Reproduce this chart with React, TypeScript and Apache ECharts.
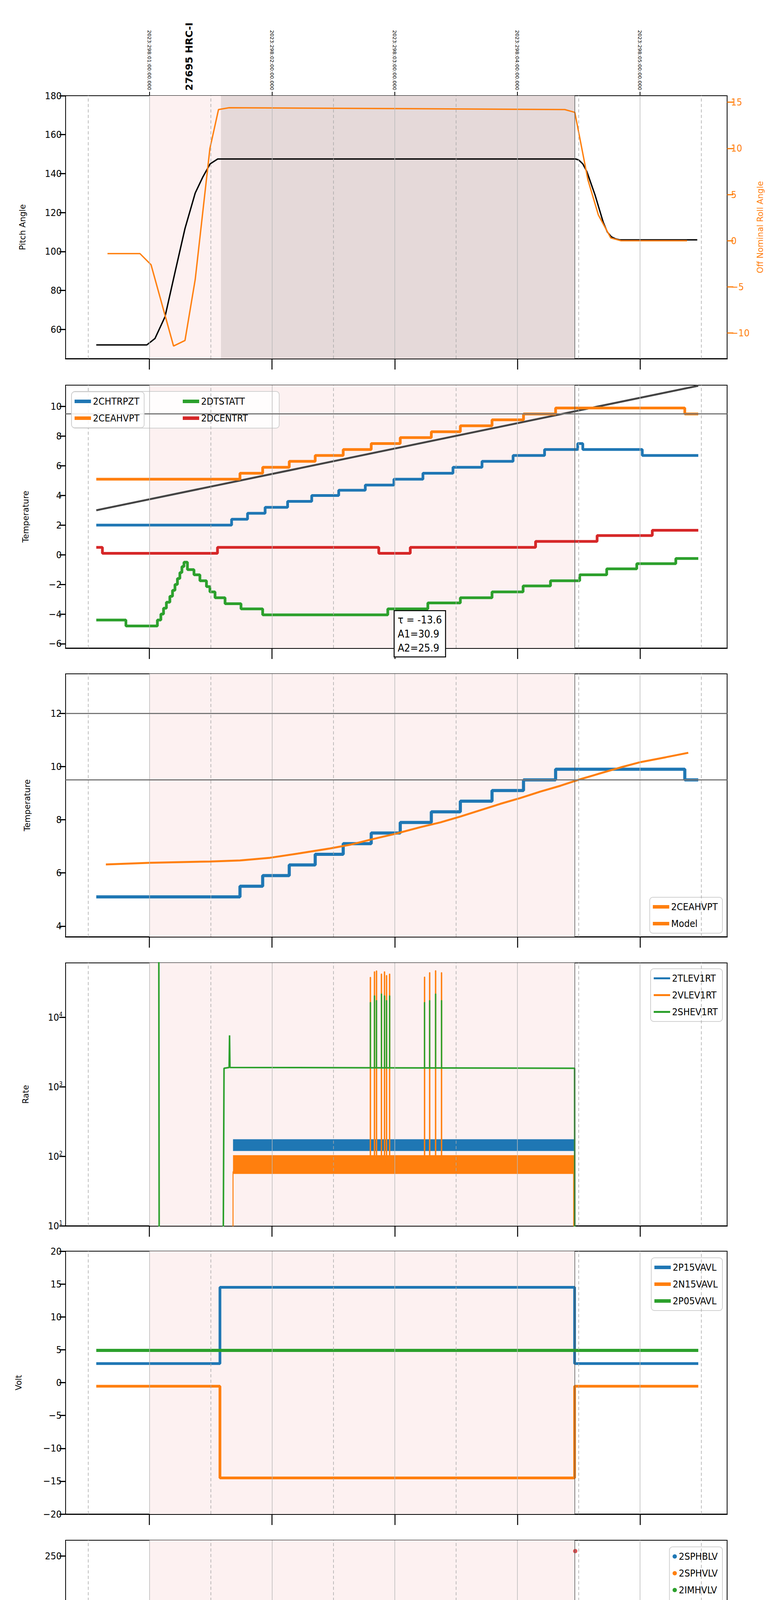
import { useRef, useEffect } from 'react'
import * as echarts from 'echarts'

// x values are minutes after 20:00 on 2023-10-25 (doy 298)
const pitch = [[34, 52], [58.7, 52], [62.7, 55.3], [67.6, 66.4], [72.6, 89.7], [77.4, 111.8], [82.4, 130], [86, 138], [89.7, 145], [93.4, 147.5], [268.5, 147.5], [270, 147], [272, 145], [274, 141], [276, 135], [278, 129], [280, 122], [282, 115], [284, 110], [286, 107.5], [288, 106.5], [290, 106], [328, 106]]
const roll = [[39.5, -1.4], [55.4, -1.4], [60.8, -2.6], [71.8, -11.4], [77.4, -10.8], [82.4, -4.2], [89.6, 10], [93.8, 14.2], [99, 14.4], [263.2, 14.2], [268.1, 13.9], [274.5, 6.6], [279.6, 2.8], [285.7, 0.3], [290.7, 0], [323, 0]]

const chtrpzt = [[34, 2.0], [100.2, 2.4], [108, 2.8], [116.6, 3.2], [127.6, 3.6], [139.4, 4.0], [152.6, 4.35], [165.6, 4.7], [179.6, 5.1], [193.8, 5.5], [208.5, 5.9], [222.7, 6.3], [237.9, 6.7], [253.3, 7.1], [269.5, 7.5], [272, 7.1], [301.1, 6.7], [328.5, 6.7]]
const ceahvpt = [[34, 5.1], [104.3, 5.5], [115.4, 5.9], [128.4, 6.3], [141.1, 6.7], [154.8, 7.1], [168.5, 7.5], [182.7, 7.9], [197.9, 8.3], [212.1, 8.7], [227.6, 9.1], [243, 9.5], [258.7, 9.9], [321.9, 9.5], [328.5, 9.5]]
const dtstatt = [[34, -4.4], [48.5, -4.8], [63.9, -4.4], [65.6, -4.0], [66.9, -3.6], [68.3, -3.2], [70, -2.8], [71.3, -2.4], [72.5, -2.0], [73.7, -1.6], [74.9, -1.2], [75.9, -0.8], [76.9, -0.5], [78.6, -1.0], [81.8, -1.35], [84.7, -1.75], [87.9, -2.15], [89.6, -2.5], [92.1, -2.9], [97, -3.3], [104.8, -3.65], [115.4, -4.05], [176.6, -3.65], [196.2, -3.25], [212.1, -2.9], [227.6, -2.5], [242.8, -2.1], [256.2, -1.75], [270.5, -1.35], [283.7, -0.95], [298.4, -0.6], [317.5, -0.25], [328.5, -0.25]]
const dcentrt = [[34, 0.5], [37, 0.1], [93.3, 0.5], [172.2, 0.1], [187.6, 0.5], [248.9, 0.9], [279, 1.3], [306, 1.65], [328.5, 1.65]]
const trendLine = [[34, 3.0], [328.5, 11.4]]

const model = [[38.7, 6.32], [60.2, 6.38], [89.6, 6.43], [104.3, 6.47], [119, 6.57], [133.7, 6.74], [148.4, 6.92], [158.2, 7.06], [168, 7.25], [180.3, 7.47], [192.5, 7.72], [202.3, 7.9], [212.1, 8.12], [221.9, 8.36], [231.7, 8.6], [241.5, 8.82], [251.3, 9.06], [261.1, 9.28], [269.7, 9.5], [280.7, 9.75], [290.5, 9.97], [300.3, 10.17], [312.5, 10.35], [323.6, 10.52]]

// rate levels (bands) and spikes [x, peak]
const tlevBand = [[100.9, 145], [268, 145]]
const vlevBand = [[100.9, 76], [268, 76]]
const shevBase = [[64.6, 100000], [64.8, 1], [96, 1], [96.5, 1850], [99, 1900], [99.2, 5500], [99.4, 1900], [268, 1850], [268.1, 1]]
const vlevSpikes = [[168, 37600], [170, 45300], [171, 46700], [173.4, 42000], [174.9, 45300], [175.9, 40000], [177.4, 42000], [194.5, 38000], [197, 44000], [199.9, 47000], [202.8, 44000]]
const shevSpikes = [[168, 16400], [170, 20400], [171, 17500], [173.4, 21700], [174.9, 20400], [175.9, 17500], [177.4, 20400], [194.5, 16400], [197, 17500], [199.9, 21700], [202.8, 17500]]

const p15 = [[34, 2.9], [94.5, 14.5], [268, 2.9], [328.5, 2.9]]
const n15 = [[34, -0.55], [94.5, -14.5], [268, -0.55], [328.5, -0.55]]
const p05 = [[34, 4.9], [328.5, 4.9]]

const imhvlv = [[97.1, 100], [97.4, 95], [97.8, 90], [98.3, 86], [98.8, 82], [99.3, 79], [268.5, 79]]
const imhblv = [[97.1, 127], [97.2, 124], [97.3, 119], [97.5, 106], [97.7, 104], [98, 100], [98.3, 97], [98.6, 93], [98.9, 89], [99.3, 86], [268.3, 86]]
const imhvlvOut = [[168, 127], [171, 127], [173, 127], [200, 127]]
const imhblvOut = [[168, 79], [171, 79], [173, 79], [200, 79], [268.3, 255]]

const spinatm = [[94.8, 4.6], [100, 4.15], [109.2, 3.7], [127.6, 3.25], [174.2, 3.7], [219.5, 4.15], [256.2, 4.6], [268, 4.6]]
const sphvatm = [[94.8, 14.7], [95.3, 14.4], [119, 14.65], [141.8, 15.0], [157.5, 15.25], [171.7, 15.55], [185.7, 15.8], [199.9, 16.1], [212.1, 16.35], [226.4, 16.65], [239.1, 16.95], [252.6, 17.25], [265.6, 17.55], [267.8, 17.55]]
const iminatm = [[95, 1.05], [154.1, 1.5], [220.7, 1.95], [267.5, 2.4], [268, 2.4]]
const imhvatm = [[94.5, -1], [94.5, 13.9], [105.3, 14.2], [111.7, 14.5], [117.8, 14.75], [124.4, 15.0], [131.3, 15.3], [138.6, 15.55], [146.5, 15.85], [154.8, 16.1], [163.6, 16.4], [175.3, 16.65], [183.9, 16.95], [194, 17.25], [205.3, 17.55], [217.5, 17.85], [229.3, 18.15], [242, 18.4], [254.3, 18.65], [268.3, 20], [268.5, -1], [268.6, -1]]
// dips [x, from, to]
const sphvDips = [[168, 15.25, 10.8], [169.5, 15.25, 10.8], [171, 15.25, 10.8], [172.5, 15.55, 10.8], [174, 15.55, 10.8], [175.5, 15.55, 10.8], [177, 15.55, 10.8], [194, 15.8, 11.4], [197, 15.8, 11.4], [200, 16.1, 11.4]]
const spinDips = [[168, 3.25, -1], [169.5, 3.25, -1], [171, 3.25, -1], [172.5, 3.25, -1], [174, 3.25, -1], [175.5, 3.7, -1], [177, 3.7, -1], [194, 3.7, -1], [197, 3.7, -1], [200, 3.7, -1]]
const iminSpikes = [[168, 1.5, 3.3], [169.5, 1.5, 3.3], [171, 1.5, 3.3], [172.5, 1.5, 3.3], [174, 1.5, 3.7], [175.5, 1.5, 3.7], [177, 1.5, 3.7], [194, 1.5, 3.7], [197, 1.5, 3.7], [200, 1.5, 3.7]]
const imhvDips = [[168, 16.4, 15.3], [169.5, 16.4, 15.3], [172.5, 16.4, 15.5], [174, 16.65, 15.5], [175.5, 16.65, 15.5], [177, 16.65, 15.5], [194, 17.25, 15.8], [197, 17.25, 16.0]]

const fhtrmzt = [[34, -8.8], [93.6, -8.4], [107.5, -7.95], [115.6, -7.6], [122.2, -7.15], [129.1, -6.75], [136.4, -6.35], [143.3, -5.95], [149.9, -5.6], [157.2, -5.2], [165.1, -4.8], [172.7, -4.45], [180, -4.05], [187.4, -3.65], [195.2, -3.3], [203.3, -2.9], [211.1, -2.5], [219.2, -2.1], [228.3, -1.75], [237.4, -1.35], [245.9, -1.0], [255.2, -0.65], [265, -0.25], [304.9, -0.65], [325, -1.0], [328.5, -1.0]]
const fradpyt = [[108, -11], [112.2, -9.65], [119, -9.2], [125.9, -8.75], [133, -8.35], [140.4, -7.95], [147.7, -7.55], [155.3, -7.15], [163.1, -6.75], [171.2, -6.35], [179.6, -5.95], [187.6, -5.55], [196.5, -5.2], [205.3, -4.8], [214.1, -4.4], [223.2, -4.05], [232.5, -3.65], [242.3, -3.25], [251.4, -2.9], [261.6, -2.5], [291.8, -2.9], [304.8, -3.25], [320, -3.65], [328.5, -3.65]]
const fepratm = [[95.8, -7.4], [97.5, -6.95], [99.4, -6.55], [102.4, -6.2], [105.6, -5.8], [109.2, -5.4], [113.4, -5.0], [119, -4.6], [125.2, -4.2], [131.3, -3.8], [137.9, -3.4], [145.5, -3.0], [152.6, -2.6], [160, -2.2], [177.4, -1.8], [182.7, -1.4], [187.6, -1.0], [197.4, -0.6], [202.3, -0.25], [212.1, 0.2], [221.9, 0.6], [231.7, 1.05], [241.5, 1.5], [252.1, 1.9], [263.1, 2.3], [268, 2.3]]
const fe00atm = [[94.5, -11], [94.5, -6.3], [103.1, -5.95], [109.2, -5.6], [112.4, -5.25], [117.3, -4.9], [124, -4.5], [129.6, -4.15], [134.5, -3.8], [140.6, -3.5], [145.5, -3.1], [151.4, -2.75], [157, -2.45], [163.1, -2.1], [169.3, -1.85], [179.1, -1.45], [181.5, -1.1], [187.6, -0.8], [194.5, -0.45], [201.1, -0.15], [207.2, 0.15], [214.6, 0.45], [220.7, 0.8], [228.1, 1.1], [235.4, 1.45], [242.8, 1.75], [249.4, 2.05], [256.2, 2.35], [268, 3], [268.6, -11], [268.7, -11]]
const feprDips = [[168, -2.2, -4.7], [169.5, -2.2, -4.7], [171, -2.2, -4.7], [172.5, -2.2, -4.7], [174, -2.2, -4.7], [175.5, -2.2, -4.7], [177, -2.2, -4.7], [194, -1.0, -4.7], [197, -1.0, -4.7], [200, -0.6, -4.7]]
const fe00Spikes = [[168, -1.85, 3], [169.5, -3.2, 3], [171, -1.85, 3], [172.5, -1.85, 3], [174, -1.85, 3], [175.5, -1.85, 3], [177, -1.85, 3], [194, -0.45, 3], [196, -0.45, 3], [198, -0.45, 3]]

const hourTicks = [60, 120, 180, 240, 300]
const halfTicks = [30, 60, 90, 120, 150, 180, 210, 240, 270, 300, 330]
const topLabels = ['2023:298:01:00:00.000', '2023:298:02:00:00.000', '2023:298:03:00:00.000', '2023:298:04:00:00.000', '2023:298:05:00:00.000']

const C = { blue: '#1f77b4', orange: '#ff7f0e', green: '#2ca02c', red: '#d62728' }
const TICKF = "'DejaVu Sans Condensed', 'Liberation Sans Narrow', 'DejaVu Sans', sans-serif"
const NAMEF = "'DejaVu Sans', sans-serif"
const TOPS = [245, 986, 1725, 2465, 3203, 3943, 4680, 5420]
const GH = 673

const fmtNum = (v: number) => String(v).replace('-', '\u2212')
const yIdx = (g: number) => (g === 0 ? 0 : g + 1)

function spikes(list: number[][], width = 0.4) {
  const out: any[] = []
  list.forEach(([x, from, to]) => {
    out.push([x, from], [x, to], [x + width, to], [x + width, from], [x + width, null])
  })
  return out
}
function peaks(list: number[][], base: number) {
  return spikes(list.map(([x, p]) => [x, base, p]), 0.2)
}

function App() {
  const chartRef = useRef<HTMLDivElement>(null)

  useEffect(() => {
    document.body.style.margin = '0'
    if (!chartRef.current) return
    const chart = echarts.init(chartRef.current, undefined, { renderer: 'svg' })

    const grids = TOPS.map(t => ({ left: 168, width: 1694, top: t, height: GH, show: true, borderColor: '#000', borderWidth: 2, backgroundColor: 'transparent' }))

    const xAxes: any[] = TOPS.map((_, g) => ({
      type: 'value', gridIndex: g, min: 19, max: 342.6, position: 'bottom',
      axisLine: { onZero: false, lineStyle: { color: '#000', width: 3 } },
      axisTick: { customValues: hourTicks, length: 28, lineStyle: { color: '#000', width: 2.5 } },
      axisLabel: g === 7 ? {
        customValues: halfTicks,
        formatter: (v: number) => v % 60 === 0 ? '{h|' + String((20 + v / 60) % 24).padStart(2, '0') + 'h}' : '{m|30}',
        rich: { h: { fontSize: 28, fontFamily: TICKF, color: '#000', padding: [38, 0, 0, 0] }, m: { fontSize: 17, fontFamily: TICKF, color: '#000', padding: [0, 0, 0, 0] } },
        margin: 14,
      } : { show: false },
      splitLine: { show: false },
      name: g === 7 ? '2023-10-25 (298)' : '', nameLocation: 'middle', nameGap: 82,
      nameTextStyle: { fontSize: 30, fontFamily: TICKF, color: '#000' },
    }))
    xAxes.push({
      type: 'value', gridIndex: 0, position: 'top', min: 19, max: 342.6,
      axisLine: { show: false, onZero: false },
      axisTick: { customValues: hourTicks, length: 10, lineStyle: { color: '#000', width: 2 } },
      axisLabel: { customValues: hourTicks, rotate: 90, fontSize: 13, fontFamily: NAMEF, color: '#000', margin: 14, formatter: (v: number) => topLabels[hourTicks.indexOf(v)] },
      splitLine: { show: false },
    })

    const yTick = { length: 16, lineStyle: { color: '#000', width: 3 } }
    const yLab = (extra: any = {}) => ({ fontSize: 25, fontFamily: TICKF, color: '#000', margin: 10, formatter: (v: number) => fmtNum(v), ...extra })
    const yName = (name: string, gap: number, color = '#000') => ({ name, nameLocation: 'middle', nameGap: gap, nameTextStyle: { fontSize: 21, fontFamily: NAMEF, color } })
    const yBase = (g: number, min: number, max: number, ticks: number[] | null, extra: any = {}) => ({
      type: 'value', gridIndex: g, min, max,
      axisLine: { show: false, onZero: false }, splitLine: { show: false },
      axisTick: ticks ? { ...yTick, customValues: ticks } : yTick,
      ...extra,
      axisLabel: ticks ? { ...yLab(extra.labelExtra || {}), customValues: ticks } : yLab(extra.labelExtra || {}),
    })

    const yAxes: any[] = [
      yBase(0, 45, 180, [60, 80, 100, 120, 140, 160, 180], yName('Pitch Angle', 100)),
      { ...yBase(0, -12.76, 15.7, [-10, -5, 0, 5, 10, 15], { ...yName('Off Nominal Roll Angle', 74, C.orange), labelExtra: { color: C.orange } }), position: 'right', axisTick: { ...yTick, customValues: [-10, -5, 0, 5, 10, 15], lineStyle: { color: C.orange, width: 3 } } },
      yBase(1, -6.29, 11.44, [-6, -4, -2, 0, 2, 4, 6, 8, 10], yName('Temperature', 92)),
      yBase(2, 3.6, 13.49, [4, 6, 8, 10, 12], yName('Temperature', 88)),
      {
        type: 'log', gridIndex: 3, min: 10, max: 60800, logBase: 10,
        axisLine: { show: false, onZero: false }, splitLine: { show: false }, axisTick: yTick,
        axisLabel: { showMaxLabel: false, formatter: (v: number) => '10{s|' + Math.round(Math.log10(v)) + '}', fontSize: 25, fontFamily: TICKF, color: '#000', rich: { s: { fontSize: 15, fontFamily: TICKF, verticalAlign: 'top', padding: [0, 0, 14, 0] } } },
        ...yName('Rate', 92),
      },
      yBase(4, -20, 20, [-20, -15, -10, -5, 0, 5, 10, 15, 20], yName('Volt', 110)),
      yBase(5, 0, 266, [0, 50, 100, 150, 200, 250], yName('HV Monitor', 105)),
      yBase(6, -0.42, 19.32, [0, 2.5, 5, 7.5, 10, 12.5, 15, 17.5], { ...yName('Detector Temp', 114), labelExtra: { formatter: (v: number) => v.toFixed(1) } }),
      yBase(7, -9.9, 2.32, [-8, -6, -4, -2, 0, 2], yName('FEA Temp', 100)),
    ]

    const series: any[] = []
    const vlines = halfTicks.map(v => ({ xAxis: v, lineStyle: { color: v % 60 === 0 ? '#b8b8b8' : '#a8a8a8', width: 1.5, type: v % 60 === 0 ? 'solid' : [8, 6] } }))
    TOPS.forEach((_, g) => {
      const areas: any[] = g === 0
        ? [[{ xAxis: 60, itemStyle: { color: '#fdf1f1' } }, { xAxis: 95 }], [{ xAxis: 95, itemStyle: { color: '#e5d9d9' } }, { xAxis: 268 }]]
        : [[{ xAxis: 60, itemStyle: { color: '#fdf1f1' } }, { xAxis: 268 }]]
      const hl: any[] = []
      if (g === 1) hl.push({ yAxis: 9.5, lineStyle: { color: '#777', width: 3, type: 'solid' } })
      if (g === 2) hl.push({ yAxis: 12, lineStyle: { color: '#777', width: 3, type: 'solid' } }, { yAxis: 9.5, lineStyle: { color: '#777', width: 3, type: 'solid' } })
      series.push({
        type: 'line', data: [], xAxisIndex: g, yAxisIndex: yIdx(g), silent: true,
        markArea: { silent: true, data: areas },
        markLine: { silent: true, symbol: 'none', label: { show: false }, data: [...vlines, { xAxis: 268, lineStyle: { color: '#555', width: 1.5, type: 'solid' } }, ...hl] },
      })
    })

    const line = (name: string, data: any[], g: number, color: string, width: number, extra: any = {}) => ({
      type: 'line', name, data, xAxisIndex: g, yAxisIndex: extra.y ?? yIdx(g), step: extra.step ?? 'end',
      symbol: 'none', connectNulls: false, lineStyle: { color, width }, itemStyle: { color }, z: extra.z ?? 3,
    })

    series.push(line('Pitch', pitch, 0, '#000', 3.5, { step: false }))
    series.push(line('Roll', roll, 0, C.orange, 3.5, { step: false, y: 1 }))

    series.push(line('trend', trendLine, 1, '#444', 5, { step: false, z: 2 }))
    series.push(line('2CHTRPZT', chtrpzt, 1, C.blue, 7))
    series.push(line('2CEAHVPT', ceahvpt, 1, C.orange, 7))
    series.push(line('2DTSTATT', dtstatt, 1, C.green, 7))
    series.push(line('2DCENTRT', dcentrt, 1, C.red, 7))

    series.push(line('2CEAHVPT', ceahvpt, 2, C.blue, 8))
    series.push(line('Model', model, 2, C.orange, 5, { step: false }))

    series.push(line('2TLEV1RT', tlevBand, 3, C.blue, 30, { step: false }))
    series.push(line('2VLEV1RT', vlevBand, 3, C.orange, 48, { step: false }))
    series.push(line('2VLEV1RT', peaks(vlevSpikes, 76), 3, C.orange, 2.5, { step: false }))
    series.push(line('2VLEV1RT', [[100.9, 1], [100.9, 60], [267.5, 60], [267.6, 1]], 3, C.orange, 2.5, { step: false }))
    series.push(line('2SHEV1RT', shevBase, 3, C.green, 4, { step: false }))
    series.push(line('2SHEV1RT', peaks(shevSpikes, 1900), 3, C.green, 2.5, { step: false }))

    series.push(line('2P15VAVL', p15, 4, C.blue, 7))
    series.push(line('2N15VAVL', n15, 4, C.orange, 7))
    series.push(line('2P05VAVL', p05, 4, C.green, 8))

    series.push({ ...line('2SPHBLV', [], 5, C.blue, 11, { step: false }) })
    series.push({ ...line('2SPHVLV', [], 5, C.orange, 11, { step: false }) })
    series.push(line('2IMHVLV', imhvlv, 5, C.green, 13, { step: false }))
    series.push(line('2IMHBLV', imhblv, 5, C.red, 11, { step: false }))
    series.push({ type: 'scatter', name: '2IMHVLV', data: imhvlvOut, xAxisIndex: 5, yAxisIndex: 6, symbolSize: 11, itemStyle: { color: C.green } })
    series.push({ type: 'scatter', name: '2IMHBLV', data: imhblvOut, xAxisIndex: 5, yAxisIndex: 6, symbolSize: 11, itemStyle: { color: C.red } })

    series.push(line('2SPINATM', spinatm, 6, C.blue, 7))
    series.push(line('2SPINATM', spikes(spinDips), 6, C.blue, 5, { step: false }))
    series.push(line('2SPHVATM', sphvatm, 6, C.orange, 7))
    series.push(line('2SPHVATM', spikes(sphvDips), 6, C.orange, 5, { step: false }))
    series.push(line('2IMINATM', iminatm, 6, C.green, 7))
    series.push(line('2IMINATM', spikes(iminSpikes), 6, C.green, 5, { step: false }))
    series.push(line('2IMHVATM', imhvatm, 6, C.red, 7))
    series.push(line('2IMHVATM', spikes(imhvDips), 6, C.red, 5, { step: false }))

    series.push(line('2FHTRMZT', fhtrmzt, 7, C.blue, 7))
    series.push(line('2FHTRMZT', spikes([[218.8, -2.5, -1]], 0.2), 7, C.blue, 4, { step: false }))
    series.push(line('2FRADPYT', fradpyt, 7, C.orange, 7))
    series.push(line('2FEPRATM', fepratm, 7, C.green, 7))
    series.push(line('2FEPRATM', spikes(feprDips), 7, C.green, 5, { step: false }))
    series.push(line('2FE00ATM', fe00atm, 7, C.red, 7))
    series.push(line('2FE00ATM', spikes(fe00Spikes), 7, C.red, 5, { step: false }))

    const legBase = {
      orient: 'vertical', backgroundColor: 'rgba(255,255,255,0.85)', borderColor: '#d0d0d0', borderWidth: 2, borderRadius: 8,
      padding: [12, 12, 12, 8], itemGap: 18, itemWidth: 42, itemHeight: 9, icon: 'rect',
      textStyle: { fontSize: 25, fontFamily: TICKF, color: '#000' },
    }
    const legend: any[] = [
      { ...legBase, data: ['2CHTRPZT', '2CEAHVPT'], left: 183, top: 1003 },
      { ...legBase, data: ['2DTSTATT', '2DCENTRT'], left: 460, top: 1003, borderWidth: 0, backgroundColor: 'transparent' },
      { ...legBase, data: ['2CEAHVPT', 'Model'], right: 150, top: 2297 },
      { ...legBase, data: ['2TLEV1RT', '2VLEV1RT', '2SHEV1RT'], itemHeight: 5, right: 150, top: 2480 },
      { ...legBase, data: ['2P15VAVL', '2N15VAVL', '2P05VAVL'], right: 150, top: 3220 },
      { ...legBase, data: ['2SPHBLV', '2SPHVLV', '2IMHVLV', '2IMHBLV'], icon: 'circle', itemWidth: 11, itemHeight: 11, right: 150, top: 3960 },
      { ...legBase, data: ['2SPINATM', '2SPHVATM', '2IMINATM', '2IMHVATM'], right: 150, top: 4697 },
      { ...legBase, data: ['2FHTRMZT', '2FRADPYT', '2FEPRATM', '2FE00ATM'], right: 150, top: 5905 },
    ]
    const graphic: any[] = [
      { type: 'rect', left: 183, top: 1001, shape: { width: 531, height: 94, r: 8 }, style: { fill: 'rgba(255,255,255,0.85)', stroke: '#d0d0d0', lineWidth: 2 }, z: 5 },
      { type: 'text', x: 484, y: 232, rotation: Math.PI / 2, style: { text: '27695 HRC-I', fontSize: 25, fontWeight: 'bold', fontFamily: NAMEF, fill: '#000', align: 'left', verticalAlign: 'middle' }, z: 10 },
      { type: 'text', left: 1008, top: 1562, style: { text: 'τ = -13.6\nA1=30.9\nA2=25.9', fontSize: 27, fontFamily: TICKF, fill: '#000', lineHeight: 36, backgroundColor: '#fff', borderColor: '#000', borderWidth: 2.5, padding: [4, 8, 4, 8] }, z: 10 },
    ]
    legend[0].z = 6
    legend[1].z = 6

    chart.setOption({ animation: false, grid: grids, xAxis: xAxes, yAxis: yAxes, series, legend, graphic })

    return () => chart.dispose()
  }, [])

  return <div ref={chartRef} style={{ width: '2000px', height: '6200px' }}></div>
}

export default App
